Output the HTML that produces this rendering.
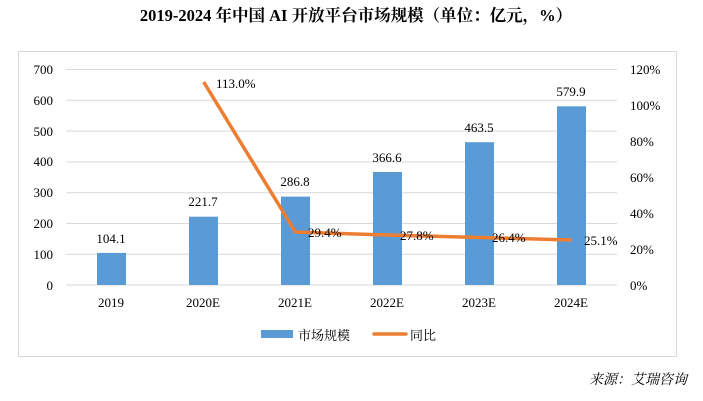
<!DOCTYPE html>
<html><head><meta charset="utf-8"><style>
html,body{margin:0;padding:0;background:#fff;}
svg{display:block;}
</style></head><body>
<svg width="703" height="401" xmlns="http://www.w3.org/2000/svg" font-family="'Liberation Serif','Noto Serif CJK SC',serif">
<text x="356" y="21" text-anchor="middle" font-size="16.5" font-weight="bold" fill="#000">2019-2024 年中国 AI 开放平台市场规模（单位：亿元，%）</text>
<rect x="18.5" y="51.5" width="658" height="305" fill="none" stroke="#d9d9d9" stroke-width="1"/>
<g stroke="#d9d9d9" stroke-width="1">
<line x1="66" y1="69.5" x2="617" y2="69.5"/>
<line x1="66" y1="100.3" x2="617" y2="100.3"/>
<line x1="66" y1="131.1" x2="617" y2="131.1"/>
<line x1="66" y1="161.9" x2="617" y2="161.9"/>
<line x1="66" y1="192.7" x2="617" y2="192.7"/>
<line x1="66" y1="223.5" x2="617" y2="223.5"/>
<line x1="66" y1="254.3" x2="617" y2="254.3"/>
<line x1="66" y1="285" x2="617" y2="285"/>
</g>
<g font-size="13" fill="#000" text-anchor="end">
<text x="53" y="74">700</text><text x="53" y="105">600</text><text x="53" y="136">500</text>
<text x="53" y="166">400</text><text x="53" y="197">300</text><text x="53" y="228">200</text>
<text x="53" y="259">100</text><text x="53" y="290">0</text>
</g>
<g font-size="13" fill="#000">
<text x="630" y="74">120%</text><text x="630" y="110">100%</text><text x="630" y="146">80%</text>
<text x="630" y="182">60%</text><text x="630" y="218">40%</text><text x="630" y="254">20%</text>
<text x="630" y="290">0%</text>
</g>
<g fill="#5b9bd5">
<rect x="97" y="252.9" width="29" height="32.1"/>
<rect x="189" y="216.7" width="29" height="68.3"/>
<rect x="281" y="196.6" width="29" height="88.4"/>
<rect x="373" y="172" width="29" height="113"/>
<rect x="465" y="142.2" width="29" height="142.8"/>
<rect x="557" y="106.3" width="29" height="178.7"/>
</g>
<g font-size="13" fill="#000" text-anchor="middle">
<text x="111" y="243">104.1</text>
<text x="203" y="206">221.7</text>
<text x="295" y="186">286.8</text>
<text x="387" y="162">366.6</text>
<text x="479" y="132">463.5</text>
<text x="571" y="96">579.9</text>
</g>
<polyline points="203.7,82 295.4,232 387.4,235 479.5,237.5 571.6,240" fill="none" stroke="#ed7d31" stroke-width="3.5" stroke-linejoin="round"/>
<g font-size="13" fill="#000">
<text x="216" y="88">113.0%</text>
<text x="308" y="237">29.4%</text>
<text x="400" y="240">27.8%</text>
<text x="492" y="242">26.4%</text>
<text x="584" y="245">25.1%</text>
</g>
<g font-size="13" fill="#000" text-anchor="middle">
<text x="111" y="307">2019</text><text x="203" y="307">2020E</text><text x="295" y="307">2021E</text>
<text x="387" y="307">2022E</text><text x="479" y="307">2023E</text><text x="571" y="307">2024E</text>
</g>
<rect x="261" y="330" width="32" height="8" fill="#5b9bd5"/>
<text x="298" y="340" font-size="13" fill="#000">市场规模</text>
<line x1="374" y1="334" x2="406" y2="334" stroke="#ed7d31" stroke-width="3.5" stroke-linecap="round"/>
<text x="410" y="340" font-size="13" fill="#000">同比</text>
<text x="687" y="384" text-anchor="end" font-size="14" font-style="italic" fill="#000">来源：艾瑞咨询</text>
</svg>
</body></html>
